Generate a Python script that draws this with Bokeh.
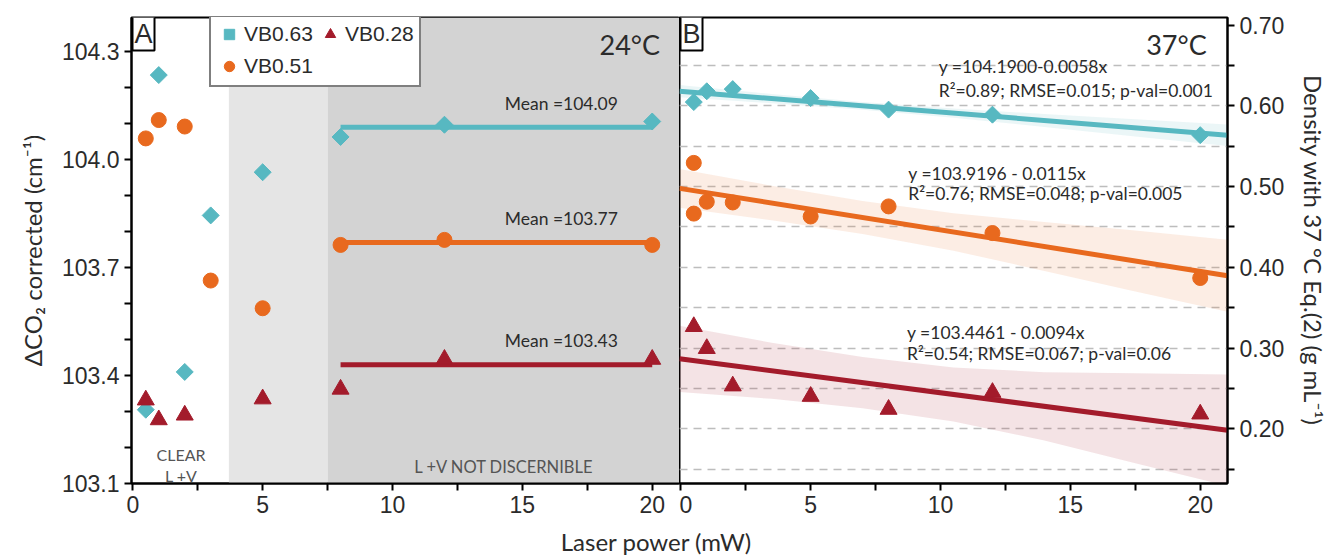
import numpy as np
from bokeh.plotting import figure
from bokeh.models import (Range1d, LinearAxis, FixedTicker, NumeralTickFormatter,
                          BoxAnnotation, Label, Legend, LegendItem, Grid)
from bokeh.layouts import column, row
from bokeh.embed import file_html
from bokeh.resources import INLINE

# ---------------- data ----------------
CYAN = "#57b8c1"
ORANGE = "#e8691e"
RED = "#a31b2b"
series_names = ["VB0.63", "VB0.51", "VB0.28"]
series_colors = [CYAN, ORANGE, RED]

# Panel A (24 °C)
a_x_063 = [0.5, 1, 2, 3, 5, 8, 12, 20]
a_y_063 = [103.305, 104.235, 103.41, 103.845, 103.965, 104.063, 104.097, 104.106]
a_x_051 = [0.5, 1, 2, 3, 5, 8, 12, 20]
a_y_051 = [104.059, 104.110, 104.092, 103.664, 103.587, 103.763, 103.777, 103.763]
a_x_028 = [0.5, 1, 2, 5, 8, 12, 20]
a_y_028 = [103.332, 103.277, 103.290, 103.335, 103.362, 103.445, 103.445]
a_means = [104.09, 103.77, 103.43]
a_mean_labels = ["Mean =104.09", "Mean =103.77", "Mean =103.43"]
a_mean_x0 = [8, 8, 8]
a_mean_x1 = [20, 20, 20]

# Panel B (37 °C)
b_x_063 = [0.5, 1, 2, 5, 8, 12, 20]
b_y_063 = [104.160, 104.190, 104.196, 104.171, 104.139, 104.125, 104.068]
b_x_051 = [0.5, 0.5, 1, 2, 5, 8, 12, 20]
b_y_051 = [103.991, 103.850, 103.883, 103.881, 103.842, 103.870, 103.796, 103.671]
b_x_028 = [0.5, 1, 2, 5, 8, 12, 20]
b_y_028 = [103.536, 103.475, 103.371, 103.342, 103.306, 103.353, 103.293]
fit_intercepts = [104.1900, 103.9196, 103.4461]
fit_slopes = [-0.0058, -0.0115, -0.0094]
band_x = [-0.05, 3.5, 7, 10.5, 14, 17.5, 21.05]
band_half_063 = [0.017, 0.013, 0.011, 0.013, 0.018, 0.024, 0.030]
band_half_051 = [0.054, 0.048, 0.046, 0.052, 0.068, 0.085, 0.100]
band_half_028 = [0.092, 0.078, 0.071, 0.075, 0.095, 0.125, 0.155]
eq_texts = ["y =104.1900-0.0058x", "R²=0.89; RMSE=0.015; p-val=0.001",
            "y =103.9196 - 0.0115x", "R²=0.76; RMSE=0.048; p-val=0.005",
            "y =103.4461 - 0.0094x", "R²=0.54; RMSE=0.067; p-val=0.06"]
eq_x = [9.93, 9.93, 8.76, 8.76, 8.71, 8.71]
eq_y = [104.259, 104.192, 103.961, 103.906, 103.519, 103.462]

# axes
x_range_lim = (-0.05, 21.05)
y_range_lim = (103.1, 104.395)
dens_range_lim = (0.1325, 0.7093)
x_ticks = [0, 5, 10, 15, 20]
x_minor = [2.5, 7.5, 12.5, 17.5]
left_ticks = [103.1, 103.4, 103.7, 104.0, 104.3]
left_minor = [103.2, 103.3, 103.5, 103.6, 103.8, 103.9, 104.1, 104.2]
right_ticks = [0.2, 0.3, 0.4, 0.5, 0.6, 0.7]
right_minor = [0.15, 0.25, 0.35, 0.45, 0.55, 0.65]
grid_levels = [0.15, 0.2, 0.25, 0.3, 0.35, 0.4, 0.45, 0.5, 0.55, 0.6, 0.65]
shade_light = (3.7, 7.5)
shade_dark_left = 7.5

TICK_FONT = "Liberation Sans"
TEXT_FONT = "Lato"
TXT_COL = "#2b2b2b"

FW, FH = 548, 466


def style_axis(ax, size="23px"):
    ax.axis_line_color = "black"
    ax.axis_line_width = 2
    ax.major_tick_line_color = "black"
    ax.major_tick_line_width = 2
    ax.major_tick_in = 0
    ax.major_tick_out = 7
    ax.minor_tick_line_color = "black"
    ax.minor_tick_line_width = 2
    ax.minor_tick_in = 0
    ax.minor_tick_out = 7
    ax.major_label_text_font = TICK_FONT
    ax.major_label_text_font_size = size
    ax.major_label_text_color = TXT_COL
    ax.axis_label_text_font = TEXT_FONT
    ax.axis_label_text_font_size = "24px"
    ax.axis_label_text_font_style = "normal"
    ax.axis_label_text_color = TXT_COL


def base_fig(**kw):
    p = figure(frame_width=FW, frame_height=FH, min_border_top=17, min_border_bottom=44,
               x_range=Range1d(*x_range_lim), y_range=Range1d(*y_range_lim),
               output_backend="svg", toolbar_location=None, **kw)
    p.outline_line_color = "black"
    p.outline_line_width = 2
    p.outline_line_alpha = 1
    p.background_fill_color = "white"
    p.border_fill_color = "white"
    p.xgrid.visible = False
    p.ygrid.visible = False
    p.xaxis.ticker = FixedTicker(ticks=x_ticks, minor_ticks=x_minor)
    for ax in p.xaxis:
        style_axis(ax, "23px")
    return p


def add_text(p, x, y, txt, size, align="center", baseline="middle", color=TXT_COL, yoff=0, font=TEXT_FONT):
    p.add_layout(Label(x=x, y=y, text=txt, text_align=align, text_baseline=baseline,
                       text_font=font, text_font_size=size, text_color=color, y_offset=yoff))


def panel_tag(p, txt):
    p.add_layout(Label(x=x_range_lim[0], y=y_range_lim[1], text=txt, text_align="left",
                       text_baseline="top", text_font=TICK_FONT, text_font_size="27px",
                       text_color=TXT_COL, background_fill_color="white",
                       border_line_color="black", border_line_width=2, padding=2, x_offset=1, y_offset=1))


# ---------------- Panel A ----------------
pA = base_fig(min_border_left=131, min_border_right=0)
pA.add_layout(BoxAnnotation(left=shade_light[0], right=shade_light[1], fill_color="#e5e5e5",
                            fill_alpha=1, line_alpha=0, level="underlay"))
pA.add_layout(BoxAnnotation(left=shade_dark_left, fill_color="#d3d3d3",
                            fill_alpha=1, line_alpha=0, level="underlay"))
for ax in pA.yaxis:
    ax.ticker = FixedTicker(ticks=left_ticks, minor_ticks=left_minor)
    ax.formatter = NumeralTickFormatter(format="0.0")
    style_axis(ax, "23px")
    ax.axis_label = "ΔCO₂ corrected (cm⁻¹)"
    ax.axis_label_standoff = 12

pA.segment(x0=a_mean_x0, x1=a_mean_x1, y0=a_means, y1=a_means, color=series_colors, line_width=5)
rA63 = pA.scatter(a_x_063, a_y_063, marker="square", angle=np.pi / 4, size=12, color=CYAN)
rA51 = pA.scatter(a_x_051, a_y_051, marker="circle", size=15, color=ORANGE)
rA28 = pA.scatter(a_x_028, a_y_028, marker="triangle", size=17, color=RED)

for m, lab in zip(a_means, a_mean_labels):
    add_text(pA, 16.5, m, lab, "17.5px", yoff=24)

add_text(pA, 20.3, 104.32, "24°C", "27px", align="right")
add_text(pA, 1.86, 103.181, "CLEAR", "16px", color="#555555")
add_text(pA, 1.86, 103.123, "L +V", "16px", color="#555555")
add_text(pA, 14.3, 103.147, "L +V NOT DISCERNIBLE", "16.5px", color="#555555")
panel_tag(pA, "A")

legend = Legend(items=[LegendItem(label=series_names[0], renderers=[rA63]),
                       LegendItem(label=series_names[2], renderers=[rA28]),
                       LegendItem(label=series_names[1], renderers=[rA51])],
                location=(78, 396), orientation="horizontal", ncols=2,
                glyph_width=26, glyph_height=28, label_standoff=2, spacing=4, padding=5,
                margin=0, label_text_font=TICK_FONT, label_text_font_size="21px",
                label_text_color=TXT_COL, border_line_color="black", border_line_width=2,
                background_fill_color="white", background_fill_alpha=1)
pA.add_layout(legend)

# ---------------- Panel B ----------------
pB = base_fig(min_border_left=0, min_border_right=106, y_axis_location=None)
pB.extra_y_ranges = {"dens": Range1d(*dens_range_lim)}
pB.add_layout(Grid(dimension=1, ticker=FixedTicker(ticks=grid_levels), y_range_name="dens",
                   grid_line_color="#bdbdbd", grid_line_dash="8 6", grid_line_width=1.6))
rax = LinearAxis(y_range_name="dens", ticker=FixedTicker(ticks=right_ticks, minor_ticks=right_minor),
                 formatter=NumeralTickFormatter(format="0.00"),
                 axis_label="Density with 37 °C Eq.(2) (g mL⁻¹)")
style_axis(rax, "23px")
rax.axis_label_standoff = 12
pB.add_layout(rax, "right")

bx = np.array(band_x)
for a, b, half, col in zip(fit_intercepts, fit_slopes,
                           [band_half_063, band_half_051, band_half_028], series_colors):
    c = a + b * bx
    h = np.array(half)
    pB.varea(x=bx, y1=c - h, y2=c + h, fill_color=col, fill_alpha=0.12)
for a, b, col in zip(fit_intercepts, fit_slopes, series_colors):
    xs = np.array(x_range_lim)
    pB.line(xs, a + b * xs, color=col, line_width=5)

pB.scatter(b_x_063, b_y_063, marker="square", angle=np.pi / 4, size=12, color=CYAN)
pB.scatter(b_x_051, b_y_051, marker="circle", size=15, color=ORANGE)
pB.scatter(b_x_028, b_y_028, marker="triangle", size=17, color=RED)

for t, x, y in zip(eq_texts, eq_x, eq_y):
    add_text(pB, x, y, t, "17.5px", align="left")
add_text(pB, 20.25, 104.32, "37°C", "27px", align="right")
panel_tag(pB, "B")

# ---------------- shared x label ----------------
pL = figure(width=1333, height=29, x_range=Range1d(0, 1333), y_range=Range1d(0, 29),
            output_backend="svg", toolbar_location=None, min_border=0,
            x_axis_location=None, y_axis_location=None)
pL.outline_line_color = None
pL.xgrid.visible = False
pL.ygrid.visible = False
pL.add_layout(Label(x=656, y=15, text="Laser power (mW)", text_align="center",
                    text_baseline="middle", text_font=TEXT_FONT, text_font_size="24px",
                    text_color=TXT_COL))

layout = column(row(pA, pB, spacing=0), pL, spacing=0)
open("out.html", "w").write(file_html(layout, INLINE))
